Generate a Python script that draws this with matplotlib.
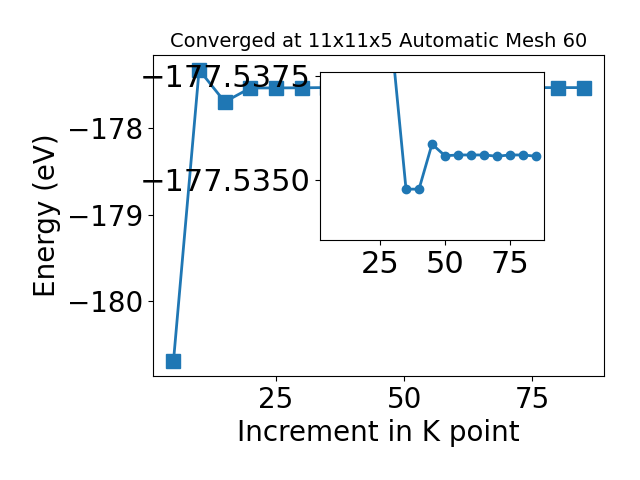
import matplotlib
matplotlib.use("Agg")
import matplotlib.pyplot as plt

kpoints = [5, 10, 15, 20, 25, 30, 35, 40, 45, 50, 55, 60, 65, 70, 75, 80, 85]
energy = [-180.69, -177.33, -177.70, -177.540, -177.539, -177.538,
          -177.53478, -177.53478, -177.53586, -177.53558, -177.53560,
          -177.53560, -177.53560, -177.53557, -177.53560, -177.53560,
          -177.53557]
main_xticks = [25, 50, 75]
inset_yticks = [-177.5375, -177.5350]
inset_yticklabels = ['\u2212177.5375', '\u2212177.5350']

plt.rcParams['font.size'] = 20
fig = plt.figure(figsize=(6.4, 4.8), dpi=100)
ax = fig.add_axes([0.239, 0.217, 0.705, 0.668])
ax.plot(kpoints, energy, marker='s', markersize=10, linewidth=2, color='#1f77b4')
ax.set_xticks(main_xticks)
ax.set_xlabel('Increment in K point')
ax.set_ylabel('Energy (eV)')
ax.set_title('Converged at 11x11x5 Automatic Mesh 60', fontsize=14)

ins = fig.add_axes([0.5, 0.5, 0.35, 0.35])
ins.plot(kpoints[3:], energy[3:], marker='o', markersize=6, linewidth=2, color='#1f77b4')
ins.set_xlim(1.9, 88.1)
ins.set_ylim(-177.53356, -177.53759)
ins.set_xticks(main_xticks)
ins.set_yticks(inset_yticks)
ins.set_yticklabels(inset_yticklabels)
ins.tick_params(labelsize=22)

fig.savefig('out.png', dpi=100)
